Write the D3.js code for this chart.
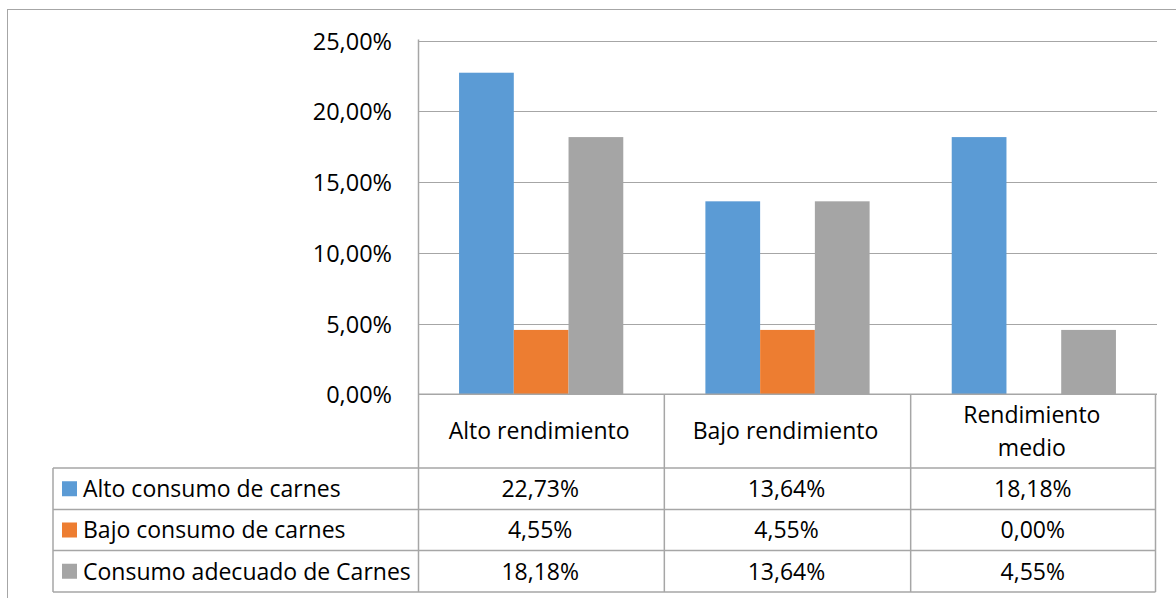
<!DOCTYPE html>
<html>
<head>
<meta charset="utf-8">
<script src="https://cdn.jsdelivr.net/npm/d3@7"></script>
<style>
  html, body { margin: 0; padding: 0; background: #fff; }
  svg { display: block; font-family: "Open Sans", "Noto Sans", sans-serif; }
</style>
</head>
<body>
<svg id="chart" width="1176" height="598"></svg>
<script>
const categories = ["Alto rendimiento", "Bajo rendimiento", "Rendimiento medio"];
const categoryLines = [["Alto rendimiento"], ["Bajo rendimiento"], ["Rendimiento", "medio"]];
const seriesNames = ["Alto consumo de carnes", "Bajo consumo de carnes", "Consumo adecuado de Carnes"];
const altoConsumo = [0.2273, 0.1364, 0.1818];
const bajoConsumo = [0.0455, 0.0455, 0.0000];
const adecuadoConsumo = [0.1818, 0.1364, 0.0455];
const seriesValues = [altoConsumo, bajoConsumo, adecuadoConsumo];
const yTicks = [0, 0.05, 0.10, 0.15, 0.20, 0.25];
const colors = ["#5B9BD5", "#ED7D31", "#A5A5A5"];

(function () {
const locale = d3.formatLocale({decimal: ",", thousands: ".", grouping: [3], currency: ["", "€"]});
const pct = locale.format(".2%");

const svg = d3.select("#chart");
const pLeft = 418, pRight = 1157, pTop = 40.6, pBottom = 394.3;
const tableLeft = 53;
const rowYs = [468, 509.5, 550.5, 592];

const y = d3.scaleLinear().domain([0, 0.25]).range([pBottom, pTop]);
const x = d3.scaleBand().domain(categories).range([pLeft, pRight]).padding(0);
const xs = d3.scaleBand().domain(seriesNames).range([0, x.bandwidth()]).paddingInner(0).paddingOuter(0.75);

const gridColor = "#a6a6a6";

// outer frame
svg.append("rect").attr("x", 7.5).attr("y", 9.5).attr("width", 1200).attr("height", 700)
  .attr("fill", "none").attr("stroke", "#a6a6a6").attr("stroke-width", 1);

// gridlines
svg.append("g").selectAll("line").data(yTicks.filter(d => d > 0)).join("line")
  .attr("x1", pLeft).attr("x2", pRight)
  .attr("y1", d => Math.round(y(d)) + 0.5).attr("y2", d => Math.round(y(d)) + 0.5)
  .attr("stroke", gridColor).attr("stroke-width", 1.2);

// y axis labels
const yAxis = d3.axisLeft(y).tickValues(yTicks).tickFormat(pct).tickSize(0).tickPadding(26);
const yg = svg.append("g").attr("transform", `translate(${pLeft},0)`).call(yAxis);
yg.select(".domain").remove();
yg.selectAll("text").attr("font-size", 23.5).attr("fill", "#000")
  .attr("font-family", "'Open Sans', sans-serif").attr("dy", "0.36em");

// bars
const groups = svg.append("g").selectAll("g").data(seriesNames).join("g").attr("fill", (d, i) => colors[i]);
groups.selectAll("rect").data((s, i) => categories.map((c, j) => ({s, c, v: seriesValues[i][j]}))).join("rect")
  .attr("x", d => x(d.c) + xs(d.s))
  .attr("width", xs.bandwidth())
  .attr("y", d => y(d.v))
  .attr("height", d => y(0) - y(d.v));

// table lines
const tg = svg.append("g").attr("stroke", gridColor).attr("stroke-width", 1.5).attr("fill", "none");
tg.append("line").attr("x1", pLeft + 0.5).attr("x2", pLeft + 0.5).attr("y1", pTop - 1).attr("y2", rowYs[3]);
tg.append("line").attr("x1", pLeft).attr("x2", pRight).attr("y1", pBottom).attr("y2", pBottom);
const colEdges = categories.map(c => x(c) + x.bandwidth());
tg.selectAll("line.col").data(colEdges).join("line").attr("class", "col")
  .attr("x1", d => Math.min(d, 1155.5)).attr("x2", d => Math.min(d, 1155.5))
  .attr("y1", pBottom).attr("y2", rowYs[3]);
tg.selectAll("line.row").data(rowYs).join("line").attr("class", "row")
  .attr("x1", tableLeft).attr("x2", 1155.5).attr("y1", d => d).attr("y2", d => d);
tg.append("line").attr("x1", tableLeft).attr("x2", tableLeft).attr("y1", rowYs[0]).attr("y2", rowYs[3]);

// category labels
const fs = 23;
const catG = svg.append("g").attr("font-size", fs).attr("fill", "#000").attr("text-anchor", "middle");
categories.forEach((c, j) => {
  const lines = categoryLines[j];
  const cx = x(c) + x.bandwidth() / 2 - 2;
  const cy = (pBottom + rowYs[0]) / 2;
  const lh = 33;
  lines.forEach((ln, k) => {
    catG.append("text").attr("x", cx).attr("y", cy + (k - (lines.length - 1) / 2) * lh).attr("dy", "0.36em").text(ln);
  });
});

// legend rows + values
const rowG = svg.append("g").attr("font-size", fs).attr("fill", "#000");
seriesNames.forEach((s, i) => {
  const cy = (rowYs[i] + rowYs[i + 1]) / 2;
  rowG.append("rect").attr("x", 62).attr("y", cy - 7.5).attr("width", 15).attr("height", 15).attr("fill", colors[i]);
  rowG.append("text").attr("x", 83).attr("y", cy).attr("dy", "0.36em").text(s);
  categories.forEach((c, j) => {
    rowG.append("text").attr("x", x(c) + x.bandwidth() / 2 - 1).attr("y", cy).attr("dy", "0.36em")
      .attr("text-anchor", "middle").text(pct(seriesValues[i][j]));
  });
});
})();
</script>
</body>
</html>
